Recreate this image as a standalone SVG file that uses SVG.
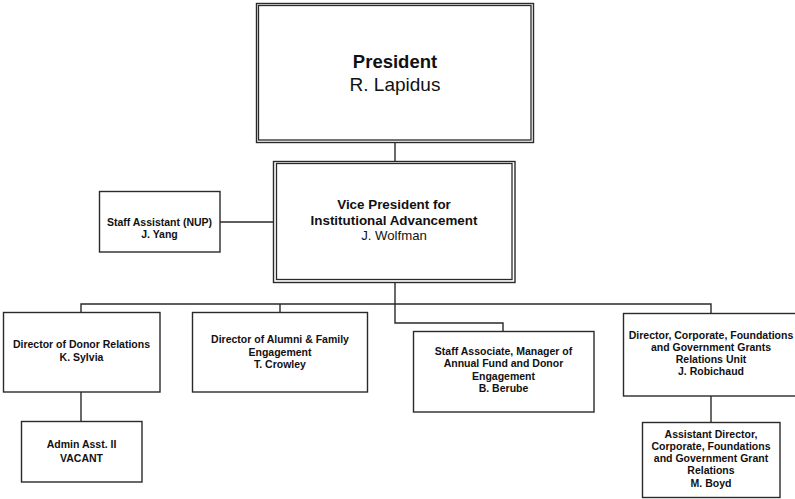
<svg xmlns="http://www.w3.org/2000/svg" width="795" height="499" viewBox="0 0 795 499">
  <style>
    .box { fill: #ffffff; stroke: #2a2a2a; stroke-width: 1.4; }
    .frame { fill: none; stroke: #2a2a2a; stroke-width: 1.3; }
    .link { fill: none; stroke: #2a2a2a; stroke-width: 1.4; }
    text { font-family: "Liberation Sans", Arial, sans-serif; fill: #111111; text-anchor: middle; }
    .sm { font-size: 10.5px; font-weight: bold; }
    .vp { font-size: 13.4px; font-weight: bold; }
    .vpn { font-size: 13.2px; }
  </style>
  <rect width="795" height="499" fill="#ffffff"/>

  <!-- reporting lines -->
  <g id="connectors">
    <line class="link" x1="395" y1="143" x2="395" y2="161"/>
    <line class="link" x1="220" y1="222" x2="273" y2="222"/>
    <line class="link" x1="395" y1="283" x2="395" y2="304"/>
    <polyline class="link" points="81,312 81,304 711,304 711,313"/>
    <line class="link" x1="280" y1="304" x2="280" y2="312"/>
    <polyline class="link" points="395,304 395,323 503,323 503,331"/>
    <line class="link" x1="81" y1="392" x2="81" y2="421"/>
    <line class="link" x1="711" y1="396" x2="711" y2="422"/>
  </g>

  <g id="president">
    <rect class="box" x="256.5" y="3.5" width="277" height="139"/>
    <rect class="frame" x="258.5" y="5.5" width="272.5" height="134.5"/>
    <text x="395" y="68" font-size="18.5" font-weight="bold">President</text>
    <text x="395" y="91" font-size="19">R. Lapidus</text>
  </g>

  <g id="vice-president">
    <rect class="box" x="273.5" y="161.5" width="241.5" height="121"/>
    <rect class="frame" x="276.5" y="163.5" width="235.5" height="116"/>
    <text class="vp" x="394" y="209">Vice President for</text>
    <text class="vp" x="394" y="225">Institutional Advancement</text>
    <text class="vpn" x="394" y="240">J. Wolfman</text>
  </g>

  <g id="staff-assistant">
    <rect class="box" x="99.5" y="191.5" width="120.5" height="60.5"/>
    <text class="sm" x="159.5" y="226">Staff Assistant (NUP)</text>
    <text class="sm" x="159.5" y="238">J. Yang</text>
  </g>

  <g id="donor-relations">
    <rect class="box" x="3.5" y="312.5" width="156.5" height="79.5"/>
    <text class="sm" x="81.5" y="348">Director of Donor Relations</text>
    <text class="sm" x="81.5" y="361">K. Sylvia</text>
  </g>

  <g id="alumni-family">
    <rect class="box" x="192.5" y="312.5" width="175" height="79.5"/>
    <text class="sm" x="280" y="343">Director of Alumni &amp; Family</text>
    <text class="sm" x="280" y="355.5">Engagement</text>
    <text class="sm" x="280" y="367.5">T. Crowley</text>
  </g>

  <g id="annual-fund">
    <rect class="box" x="413.5" y="331.5" width="180.5" height="80.5"/>
    <text class="sm" x="503.5" y="355">Staff Associate, Manager of</text>
    <text class="sm" x="503.5" y="367">Annual Fund and Donor</text>
    <text class="sm" x="503.5" y="379.5">Engagement</text>
    <text class="sm" x="503.5" y="391.5">B. Berube</text>
  </g>

  <g id="corporate-foundations">
    <rect class="box" x="623.5" y="313.5" width="176" height="82.5"/>
    <text class="sm" x="711" y="339">Director, Corporate, Foundations</text>
    <text class="sm" x="711" y="351">and Government Grants</text>
    <text class="sm" x="711" y="363">Relations Unit</text>
    <text class="sm" x="711" y="375">J. Robichaud</text>
  </g>

  <g id="admin-assistant">
    <rect class="box" x="21.5" y="421.5" width="120.5" height="60.5"/>
    <text class="sm" x="81.5" y="448">Admin Asst. II</text>
    <text class="sm" x="81.5" y="462">VACANT</text>
  </g>

  <g id="assistant-director">
    <rect class="box" x="642.5" y="422.5" width="137.5" height="75"/>
    <text class="sm" x="711" y="437.5">Assistant Director,</text>
    <text class="sm" x="711" y="449.5">Corporate, Foundations</text>
    <text class="sm" x="711" y="462">and Government Grant</text>
    <text class="sm" x="711" y="474">Relations</text>
    <text class="sm" x="711" y="486.5">M. Boyd</text>
  </g>
</svg>
